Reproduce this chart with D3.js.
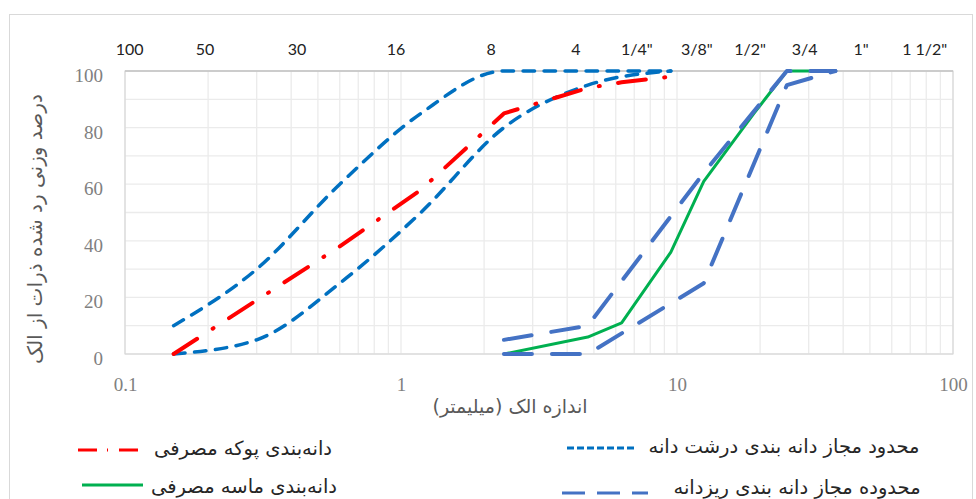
<!DOCTYPE html>
<html>
<head>
<meta charset="utf-8">
<title>grading curves</title>
<script src="https://d3js.org/d3.v7.min.js"></script>
<style>
  body { margin: 0; background: #fff; }
  svg { display: block; }
  .fa { font-family: 'DejaVu Sans', sans-serif; fill: #404040; }
  .num { font-family: 'Liberation Serif', serif; fill: #808080; font-size: 19px; }
  .sieve { font-family: Lato, 'Open Sans', sans-serif; fill: #222; font-size: 16px; }
</style>
</head>
<body>
<script>
// DATA (sieve size in mm -> percent passing)
var fineLimX     = [0.15, 0.3, 0.6, 1.18, 2.36, 4.75, 9.5];
var fineLimUpper = [10, 30, 60, 85, 100, 100, 100];
var fineLimLower = [0, 5, 25, 50, 80, 95, 100];

var pumiceX = [0.15, 0.3, 0.6, 1.18, 2.36, 4.75, 6.3, 9.5];
var pumiceY = [0, 19, 38, 58, 85, 94, 96, 98];

var coarseLimX     = [2.36, 4.75, 12.5, 25, 37.5];
var coarseLimUpper = [5, 10, 64, 100, 100];
var coarseLimLower = [0, 0, 25, 95, 100];

var sandX = [2.36, 4.75, 6.3, 9.5, 12.5, 19, 25, 37.5];
var sandY = [0, 6, 11, 36, 61, 85, 100, 100];

// sieve names along the top, and where (in mm) each one sits
var sieveNames = ['100', '50', '30', '16', '8', '4', '1/4"', '3/8"', '1/2"', '3/4', '1"', '1 1/2"'];
var sieveAt    = [0.104, 0.195, 0.42, 0.96, 2.12, 4.3, 7.15, 11.8, 18.4, 29.0, 46.5, 79];

var yTicks = [0, 20, 40, 60, 80, 100];
var xTicks = [0.1, 1, 10, 100];

var legendNames = [
  'دانه‌بندی پوکه مصرفی',
  'محدود مجاز دانه بندی درشت دانه',
  'دانه‌بندی ماسه مصرفی',
  'محدوده مجاز دانه بندی ریزدانه'
];
var xTitle = 'اندازه الک (میلیمتر)';
var yTitle = 'درصد وزنی رد شده ذرات از الک';

// STYLES
var st = {
  pumice: { c: '#ff0000', w: 4, dash: '28 18.5 1 18.5', cap: 'round', legDash: '19 10 1 11' },
  fine:   { c: '#0070c0', w: 3.5, dash: '11.5 9.5', cap: 'round', legDash: '7 3' },
  sand:   { c: '#00b050', w: 3, dash: null, cap: 'butt', legDash: null },
  coarse: { c: '#4472c4', w: 4, dash: '28 20', cap: 'round', legDash: '23 12' }
};

var W = 976, H = 499;
var svg = d3.select('body').append('svg').attr('width', W).attr('height', H);
svg.append('rect').attr('width', W).attr('height', H).attr('fill', '#fff');
svg.append('rect').attr('x', 9.5).attr('y', 14.5).attr('width', 963).attr('height', 600)
  .attr('fill', 'none').attr('stroke', '#d9d9d9');

var x = d3.scaleLog().domain([0.1, 100]).range([125, 953]);
var y = d3.scaleLinear().domain([0, 100]).range([354, 71]);

// GRID
var g = svg.append('g');
g.selectAll('.vg').data(x.ticks()).enter().append('line')
  .attr('x1', d => x(d)).attr('x2', d => x(d)).attr('y1', y(0)).attr('y2', y(100))
  .attr('stroke', '#ebebeb').attr('stroke-width', 1.3);
g.selectAll('.hg').data(d3.range(0, 101, 10)).enter().append('line')
  .attr('x1', x(0.1)).attr('x2', x(100)).attr('y1', d => y(d)).attr('y2', d => y(d))
  .attr('stroke', '#ebebeb').attr('stroke-width', 1.3);
g.append('rect').attr('x', x(0.1)).attr('y', y(100)).attr('width', x(100) - x(0.1)).attr('height', y(0) - y(100))
  .attr('fill', 'none').attr('stroke', '#d4d4d4');
g.append('line').attr('x1', x(0.1)).attr('x2', x(100)).attr('y1', y(100)).attr('y2', y(100))
  .attr('stroke', '#c4c4c4').attr('stroke-width', 1.5);

// AXES
var ya = svg.append('g').attr('transform', 'translate(' + x(0.1) + ',0)')
  .call(d3.axisLeft(y).tickValues(yTicks).tickSize(0).tickPadding(22));
ya.select('.domain').remove();
ya.selectAll('text').attr('class', 'num').attr('font-family', null).attr('font-size', null).attr('dy', '0.55em');

var xa = svg.append('g').attr('transform', 'translate(0,' + y(0) + ')')
  .call(d3.axisBottom(x).tickValues(xTicks).tickFormat(d => String(d)).tickSize(0).tickPadding(24));
xa.select('.domain').remove();
xa.selectAll('text').attr('class', 'num').attr('font-family', null).attr('font-size', null);

svg.selectAll('.sieve').data(sieveNames).enter().append('text')
  .attr('class', 'sieve').attr('x', (d, i) => x(sieveAt[i])).attr('y', 49)
  .attr('dy', '0.35em').attr('text-anchor', 'middle').text(d => d);

svg.append('text').attr('class', 'fa').attr('direction', 'rtl')
  .attr('x', 510).attr('y', 406).attr('dy', '0.35em').attr('text-anchor', 'middle')
  .style('font-size', '19px').style('fill', '#595959').text(xTitle);

svg.append('text').attr('class', 'fa').attr('direction', 'rtl')
  .attr('transform', 'translate(35,229) rotate(-90)').attr('dy', '0.35em').attr('text-anchor', 'middle')
  .style('font-size', '20px').style('fill', '#595959').text(yTitle);

// SERIES
var line = d3.line().x(d => x(d[0])).y(d => y(d[1]));
var smooth = d3.line().x(d => x(d[0])).y(d => y(d[1])).curve(d3.curveMonotoneX);

function draw(xs, ys, s, gen) {
  svg.append('path').datum(d3.zip(xs, ys))
    .attr('d', gen).attr('fill', 'none')
    .attr('stroke', s.c).attr('stroke-width', s.w)
    .attr('stroke-dasharray', s.dash).attr('stroke-linecap', s.cap)
    .attr('stroke-linejoin', 'round');
}
draw(sandX, sandY, st.sand, line);
draw(coarseLimX, coarseLimUpper, st.coarse, line);
draw(coarseLimX, coarseLimLower, st.coarse, line);
draw(fineLimX, fineLimUpper, st.fine, smooth);
draw(fineLimX, fineLimLower, st.fine, smooth);
draw(pumiceX, pumiceY, st.pumice, line);

// LEGEND
var leg = [
  { s: st.pumice, x1: 78, x2: 142, ly: 450, tx: 243, ty: 455 },
  { s: st.fine,   x1: 567, x2: 637, ly: 448, tx: 784, ty: 453 },
  { s: st.sand,   x1: 82, x2: 143, ly: 485, tx: 244, ty: 493 },
  { s: st.coarse, x1: 562, x2: 648, ly: 493, tx: 797, ty: 494 }
];
leg.forEach(function (d, i) {
  svg.append('line').attr('x1', d.x1).attr('x2', d.x2).attr('y1', d.ly).attr('y2', d.ly)
    .attr('stroke', d.s.c).attr('stroke-width', 3).attr('stroke-dasharray', d.s.legDash);
  svg.append('text').attr('class', 'fa').attr('direction', 'rtl')
    .attr('x', d.tx).attr('y', d.ty).attr('text-anchor', 'middle')
    .style('font-size', '19.5px').style('fill', '#262626').text(legendNames[i]);
});
</script>
</body>
</html>
